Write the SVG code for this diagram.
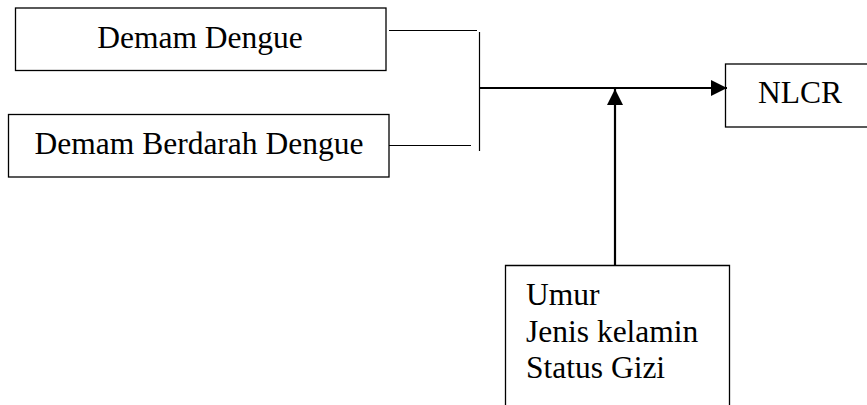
<svg xmlns="http://www.w3.org/2000/svg" width="867" height="405" viewBox="0 0 867 405">
<defs>
<style>
.box{fill:#fff;stroke:#000;stroke-width:1.3}
.t{font-family:"Liberation Serif","Times New Roman",serif;font-size:31.5px;fill:#000}
.thin{stroke:#000;stroke-width:1.2;fill:none}
.thick{stroke:#000;stroke-width:2.2;fill:none}
</style>
<marker id="ah" markerUnits="userSpaceOnUse" markerWidth="16" markerHeight="16" viewBox="0 0 16 16" refX="16" refY="8" orient="auto">
<path d="M0,0 L16,8 L0,16 Z" fill="#000"/>
</marker>
</defs>
<rect width="867" height="405" fill="#fff"/>
<g id="dd">
<rect class="box" x="15.5" y="8" width="370.5" height="62.5"/>
<text class="t" x="200" y="48" text-anchor="middle">Demam Dengue</text>
</g>
<g id="dbd">
<rect class="box" x="8.5" y="114.5" width="380.5" height="62.5"/>
<text class="t" x="199" y="154" text-anchor="middle">Demam Berdarah Dengue</text>
</g>
<g id="nlcr">
<rect class="box" x="725.5" y="64" width="145" height="63"/>
<text class="t" x="758" y="103">NLCR</text>
</g>
<g id="faktor">
<path class="box" d="M505.5,410 V265.5 H729.5 V410"/>
<text class="t" x="526" y="305">Umur</text>
<text class="t" x="526" y="341.5">Jenis kelamin</text>
<text class="t" x="526" y="378">Status Gizi</text>
</g>
<g id="connectors">
<line class="thin" x1="389" y1="30.5" x2="477" y2="30.5"/>
<line class="thin" x1="389" y1="145.5" x2="471" y2="145.5"/>
<line class="thin" x1="479.5" y1="32" x2="479.5" y2="151"/>
<line class="thick" x1="480" y1="88" x2="727" y2="88" marker-end="url(#ah)"/>
<line class="thick" x1="615" y1="265" x2="615" y2="89" marker-end="url(#ah)"/>
</g>
</svg>
